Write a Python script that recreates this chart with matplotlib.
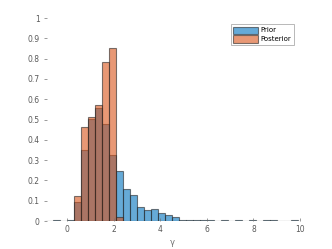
import numpy as np
import matplotlib
matplotlib.use("Agg")
import matplotlib.pyplot as plt
from matplotlib.patches import Patch

bin_width = 0.3
bin_start = -0.9
prior = [0.0, 0.004, 0.0, 0.005, 0.094, 0.349, 0.503, 0.558, 0.477, 0.327,
         0.248, 0.156, 0.127, 0.067, 0.053, 0.058, 0.041, 0.030, 0.020,
         0.003, 0.006, 0.003, 0.006, 0.003, 0.0, 0.003, 0.0, 0.003, 0.002,
         0.004, 0.0, 0.006, 0.003, 0.0, 0.002, 0.003]
posterior_start = 0.3
posterior = [0.122, 0.462, 0.512, 0.571, 0.783, 0.855, 0.018]

xticks = [0, 2, 4, 6, 8, 10]
yticks = [0, 0.1, 0.2, 0.3, 0.4, 0.5, 0.6, 0.7, 0.8, 0.9, 1]
yticklabels = ['0', '0.1', '0.2', '0.3', '0.4', '0.5', '0.6', '0.7', '0.8', '0.9', '1']

blue = (0.0, 0.447, 0.741)
orange = (0.85, 0.325, 0.098)
edge = (0.15, 0.15, 0.15)

fig = plt.figure(figsize=(3.32, 2.49), dpi=100)
ax = fig.add_axes([0.1325, 0.1124, 0.771, 0.815])

px = bin_start + bin_width * np.arange(len(prior))
ax.bar(px, prior, width=bin_width, align='edge', color=blue, alpha=0.6,
       edgecolor=edge, linewidth=0.8, label='Prior')
qx = posterior_start + bin_width * np.arange(len(posterior))
ax.bar(qx, posterior, width=bin_width, align='edge', color=orange, alpha=0.6,
       edgecolor=edge, linewidth=0.8, label='Posterior')
ax.axhline(0, color=(0.7, 0.7, 0.7), linewidth=0.8, xmin=0.005, xmax=0.995, zorder=0.5)

ax.set_xlim(-1, 10)
ax.set_ylim(0, 1)
ax.set_xticks(xticks)
ax.set_xticklabels([str(t) for t in xticks])
ax.set_yticks(yticks)
ax.set_yticklabels(yticklabels)
for s in ax.spines.values():
    s.set_visible(False)
ax.tick_params(axis='both', labelsize=5.5, colors=(0.45, 0.45, 0.45),
               labelcolor=(0.35, 0.35, 0.35), length=2.5, width=0.5,
               direction='in', pad=3)
ax.set_xlabel('γ', fontsize=6, color=(0.45, 0.45, 0.45), labelpad=3)

handles = [Patch(facecolor=blue, alpha=0.6, edgecolor=edge, linewidth=0.8),
           Patch(facecolor=orange, alpha=0.6, edgecolor=edge, linewidth=0.8)]
leg = ax.legend(handles, ['Prior', 'Posterior'], loc='upper right',
                bbox_to_anchor=(0.975, 0.97), fontsize=5, frameon=True,
                fancybox=False, edgecolor=(0.6, 0.6, 0.6), handlelength=3.6,
                handleheight=1.2, handletextpad=0.3, borderpad=0.35,
                labelspacing=0.25, borderaxespad=0)
leg.get_frame().set_linewidth(0.6)

fig.savefig('out.png', dpi=100)
